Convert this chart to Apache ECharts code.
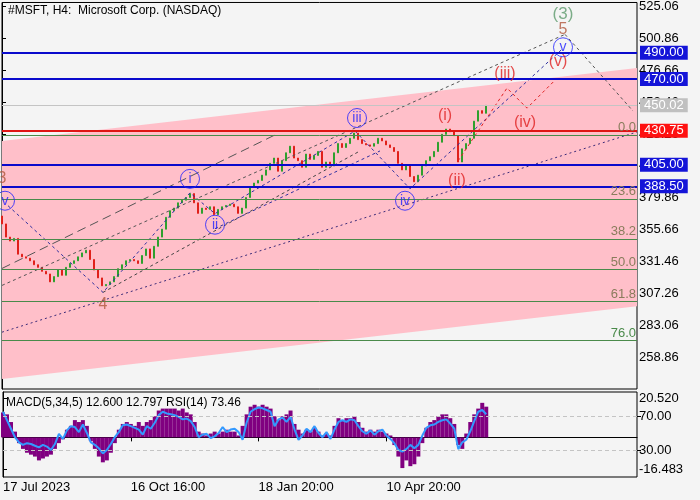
<!DOCTYPE html>
<html>
<head>
<meta charset="utf-8">
<script src="https://cdn.jsdelivr.net/npm/echarts@6/dist/echarts.min.js"></script>
<style>
html, body { margin: 0; padding: 0; background: #f4f4f4; }
#main { width: 700px; height: 500px; }
</style>
</head>
<body>
<div id="main"></div>
<script>
// H4 bars, index 0 = 17 Jul 2023
var firstOpen = 366;
var closes = [360, 350, 347, 349, 337, 335, 334, 332, 329, 327, 324, 322, 316, 320, 325, 321, 327, 330, 332, 335,
    338, 340, 333, 325, 319, 313, 314, 316, 320, 326, 329, 332, 333, 332, 330, 336, 341, 334, 343, 350,
    356, 365, 370, 372, 376, 378, 380, 383, 376, 368, 372, 371, 373, 367, 371, 373, 374, 375, 373, 368,
    372, 380, 388, 391, 393, 397, 401, 406, 410, 400, 408, 414, 419, 410, 408, 403, 413, 409, 412, 415,
    403, 407, 404, 414, 421, 418, 421, 425, 429, 424, 421, 420, 419, 421, 425, 423, 420, 418, 415, 406,
    401, 404, 396, 392, 397, 404, 408, 411, 415, 422, 428, 432, 430, 427, 407, 417, 421, 425, 438, 446,
    444, 450];
var macdHist = [13, 12, 8, 3, -3, -6, -8, -9, -10, -12, -11, -10, -9, -6, -3, -1, 4, 6, 9, 8,
    9, 6, -2, -6, -10, -13, -12, -8, -3, 4, 7, 8, 7, 6, 8, 6, 8, 9, 11, 14,
    15, 15, 15, 15, 14, 15, 13, 12, 8, 3, 2, 1, 2, 3, 2, 3, 4, 3, 3, 1,
    6, 12, 16, 17, 16, 17, 16, 15, 11, 9, 11, 12, 14, 7, 4, 2, 4, 3, 5, 3,
    1, 2, 1, 6, 10, 9, 10, 10, 11, 8, 5, 3, 4, 3, 4, 3, 2, 1, -4, -10,
    -16, -12, -15, -14, -10, -3, 5, 8, 9, 11, 12, 12, 10, 7, -4, -6, 2, 8, 12, 15,
    18, 16];
var rsiValues = [75, 65, 55, 45, 39, 36, 38, 37, 35, 33, 36, 34, 30, 37, 49, 43, 53, 58, 57, 51,
    60, 50, 39, 36, 32, 26, 30, 37, 45, 51, 59, 60, 58, 56, 54, 48, 58, 55, 62, 71,
    75, 73, 72, 71, 69, 66, 67, 64, 57, 45, 48, 49, 44, 46, 50, 57, 51, 54, 55, 51,
    42, 62, 75, 78, 80, 79, 77, 75, 58, 66, 68, 63, 69, 54, 42, 47, 55, 51, 58, 50,
    45, 51, 43, 54, 63, 65, 63, 66, 65, 58, 52, 49, 53, 48, 52, 54, 47, 43, 38, 30,
    28, 31, 36, 32, 36, 47, 56, 59, 60, 63, 65, 66, 61, 55, 31, 39, 42, 52, 64, 75,
    77, 72];

var timeTicks = [0, 32, 64, 96];
var timeLabels = ['17 Jul 2023', '16 Oct 16:00', '18 Jan 20:00', '10 Apr 20:00'];
var priceTicks = [258.86, 283.06, 307.26, 331.46, 355.66, 379.86, 404.06, 428.26, 452.46, 476.66, 500.86, 525.06];
var macdTicks = [20.52, -16.483];
var rsiTicks = [70, 30];

var levelsBlue = [490, 470, 405, 388.5];
var levelRed = 430.75;
var lastPrice = 450.02;
var fibValues = [427.3, 378.9, 348.6, 325.2, 301.0, 271.5];
var fibNames = ['0.0', '23.6', '38.2', '50.0', '61.8', '76.0'];

// regression band and drawn lines: [bar index, price]
var bandUpper = [[0, 423.0], [158.75, 478.4]];
var bandLower = [[0, 242.2], [158.75, 297.4]];
var trendDotted = [[0, 277.8], [158.75, 429.8]];
var channelTop = [[0, 313.3], [140.75, 503.9]];
var channelLong = [[0, 326.2], [68.75, 428.3]];
var projection = [[140.75, 503.9], [157.75, 445.7]];
var legFour = [[25.25, 308.0], [89.5, 415.4]];
var legTwo = [[53.25, 356.4], [94.5, 415.4]];
var waveMajor = [[1.5, 373.8], [25.25, 308.0], [47, 383.6], [53.25, 367.8], [88.25, 430.5], [102, 386.7], [140.25, 493.3]];
var waveMinor = [[114, 407.8], [126.25, 463.1], [131.25, 447.9], [138.75, 470.6]];

var circleLabels = [[0.75, 377.6, 'v'], [47, 394.2, 'i'], [53.25, 359.4, 'ii'], [88.75, 440.4, 'iii'], [100.75, 377.6, 'iv'], [140.25, 494.1, 'v']];
var redLabels = [[110.75, 441.9, '(i)'], [113.75, 392.7, '(ii)'], [125.75, 474.4, '(iii)'], [130.75, 436.6, '(iv)'], [139, 483.5, '(v)']];
var brownLabels = [[25.25, 298.9, '4'], [0, 394.2, '3'], [140.25, 507.7, '5']];
var greenLabels = [[140.25, 519.0, '(3)']];

var FONT = 'Liberation Sans';

var candles = closes.map(function (c, i) {
    var o = i === 0 ? firstOpen : closes[i - 1];
    return [i, o, c, Math.min(o, c), Math.max(o, c)];
});

function dashLine(data, color, type) {
    return {
        type: 'line', xAxisIndex: 0, yAxisIndex: 0, data: data, symbol: 'none', silent: true, z: 4,
        lineStyle: { color: color, width: 1, type: type }
    };
}

function textMarks(data, color, size) {
    return {
        type: 'scatter', xAxisIndex: 0, yAxisIndex: 0, z: 6, silent: true, data: data, symbolSize: 0,
        label: { show: true, position: 'inside', color: color, fontFamily: FONT, fontSize: size,
            formatter: function (p) { return p.value[2]; } }
    };
}

function levelLine(value, lineColor, boxColor, width) {
    return {
        yAxis: value,
        lineStyle: { color: lineColor, width: width, type: 'solid' },
        label: {
            show: true, position: 'end', distance: 3,
            formatter: function (p) { return p.value.toFixed(2); },
            color: '#fff', backgroundColor: boxColor, padding: [1, 4, 0, 4],
            fontFamily: FONT, fontSize: 13
        }
    };
}

var levelData = levelsBlue.map(function (v) { return levelLine(v, '#0a0acc', '#1414d8', 2); });
levelData.push(levelLine(levelRed, '#e01414', '#ff1010', 2));
levelData.push(levelLine(lastPrice, '#c4c4c4', '#c0c0c0', 1));

var fibData = fibValues.map(function (v, i) {
    return {
        yAxis: v, name: fibNames[i],
        label: { color: i === 5 ? '#4a8a4a' : '#8a7c5c' }
    };
});

var chart = echarts.init(document.getElementById('main'));
chart.setOption({
    backgroundColor: '#f4f4f4',
    animation: false,
    title: [
        { text: '#MSFT, H4:  Microsoft Corp. (NASDAQ)', left: 8, top: 5, padding: 0,
          textStyle: { fontFamily: FONT, fontSize: 12, fontWeight: 'normal', color: '#000' } },
        { text: 'MACD(5,34,5) 12.600 12.797 RSI(14) 73.46', left: 6, top: 397, padding: 0,
          textStyle: { fontFamily: FONT, fontSize: 12, fontWeight: 'normal', color: '#000' } }
    ],
    grid: [
        { left: 2, top: 1, width: 635, height: 388, show: true, borderColor: '#000', borderWidth: 1, backgroundColor: '#f4f4f4' },
        { left: 2, top: 392, width: 635, height: 85, show: true, borderColor: '#000', borderWidth: 1, backgroundColor: '#f4f4f4' }
    ],
    xAxis: [
        { gridIndex: 0, type: 'value', min: 0, max: 158.75, show: false },
        { gridIndex: 1, type: 'value', min: 0, max: 158.75,
          axisLine: { show: true, lineStyle: { color: '#000' } },
          axisTick: { show: true, customValues: timeTicks, length: 4, lineStyle: { color: '#000' } },
          axisLabel: { customValues: timeTicks, align: 'left', margin: 4, color: '#000', fontFamily: FONT, fontSize: 13,
              formatter: function (v) { var k = timeTicks.indexOf(v); return k < 0 ? '' : timeLabels[k]; } },
          splitLine: { show: false } }
    ],
    yAxis: [
        { gridIndex: 0, type: 'value', position: 'right', min: 234.66, max: 528.1,
          axisLine: { show: true, lineStyle: { color: '#000' } },
          axisTick: { show: true, customValues: priceTicks, length: 4, lineStyle: { color: '#000' } },
          axisLabel: { customValues: priceTicks, margin: 2, color: '#000', fontFamily: FONT, fontSize: 13,
              formatter: function (v) { return v.toFixed(2); } },
          splitLine: { show: false } },
        { gridIndex: 1, type: 'value', position: 'right', min: -20.65, max: 23.65,
          axisLine: { show: true, lineStyle: { color: '#000' } },
          axisTick: { show: true, customValues: macdTicks, length: 4, lineStyle: { color: '#000' } },
          axisLabel: { customValues: macdTicks, margin: 2, color: '#000', fontFamily: FONT, fontSize: 13,
              formatter: function (v) { return v.toFixed(3); } },
          splitLine: { show: false } },
        { gridIndex: 1, type: 'value', position: 'right', min: -1.8, max: 98.2,
          axisLine: { show: false },
          axisTick: { show: true, customValues: rsiTicks, length: 4, lineStyle: { color: '#000' } },
          axisLabel: { customValues: rsiTicks, margin: 2, color: '#000', fontFamily: FONT, fontSize: 13,
              formatter: function (v) { return v.toFixed(2); } },
          splitLine: { show: false } }
    ],
    series: [
        {
            type: 'custom', xAxisIndex: 0, yAxisIndex: 0, z: 1, silent: true, data: [0],
            renderItem: function (params, api) {
                var pts = [api.coord(bandUpper[0]), api.coord(bandUpper[1]), api.coord(bandLower[1]), api.coord(bandLower[0])];
                return { type: 'polygon', shape: { points: pts }, style: { fill: '#ffbfc9' } };
            }
        },
        {
            type: 'line', xAxisIndex: 0, yAxisIndex: 0, data: [], z: 2, silent: true,
            markLine: {
                symbol: 'none', silent: true, animation: false,
                lineStyle: { color: '#4a8a4a', width: 1, type: 'solid' },
                label: { show: true, position: 'insideEndTop', distance: [1, 1], formatter: '{b}', fontFamily: FONT, fontSize: 13 },
                data: fibData
            }
        },
        {
            type: 'candlestick', xAxisIndex: 0, yAxisIndex: 0, data: candles, barWidth: 2, z: 3,
            itemStyle: { color: '#2ea02e', color0: '#e0201a', borderColor: '#2ea02e', borderColor0: '#e0201a', borderWidth: 1 }
        },
        dashLine(trendDotted, '#3c2a78', [2, 3]),
        dashLine(channelTop, '#555555', [3, 3]),
        dashLine(channelLong, '#555555', [9, 5]),
        dashLine(projection, '#555555', [3, 3]),
        dashLine(legFour, '#444444', [3, 3]),
        dashLine(legTwo, '#3030a0', [3, 3]),
        dashLine(waveMajor, '#3030a0', [3, 3]),
        dashLine(waveMinor, '#e02020', [3, 3]),
        {
            type: 'line', xAxisIndex: 0, yAxisIndex: 0, data: [], z: 5, silent: true,
            markLine: { symbol: 'none', silent: true, animation: false, data: levelData }
        },
        {
            type: 'scatter', xAxisIndex: 0, yAxisIndex: 0, z: 6, silent: true, data: circleLabels,
            symbol: 'circle', symbolSize: 19,
            itemStyle: { color: 'rgba(0,0,0,0)', borderColor: '#2020ff', borderWidth: 1 },
            label: { show: true, position: 'inside', color: '#2020ff', fontFamily: FONT, fontSize: 14,
                formatter: function (p) { return p.value[2]; } }
        },
        textMarks(redLabels, '#e02020', 16),
        textMarks(brownLabels, '#b0583c', 16),
        textMarks(greenLabels, '#5c9a6c', 17),
        {
            type: 'bar', xAxisIndex: 1, yAxisIndex: 1, barWidth: 4, z: 2,
            data: macdHist.map(function (v, i) { return [i, v]; }),
            itemStyle: { color: '#800080' }
        },
        {
            type: 'line', xAxisIndex: 1, yAxisIndex: 2, symbol: 'none', z: 3,
            data: rsiValues.map(function (v, i) { return [i, v]; }),
            lineStyle: { color: '#3399ff', width: 2 },
            markLine: {
                symbol: 'none', silent: true, animation: false, label: { show: false },
                lineStyle: { color: '#c4c4c4', width: 1, type: [4, 3] },
                data: rsiTicks.map(function (v) { return { yAxis: v }; })
            }
        }
    ]
});
</script>
</body>
</html>
